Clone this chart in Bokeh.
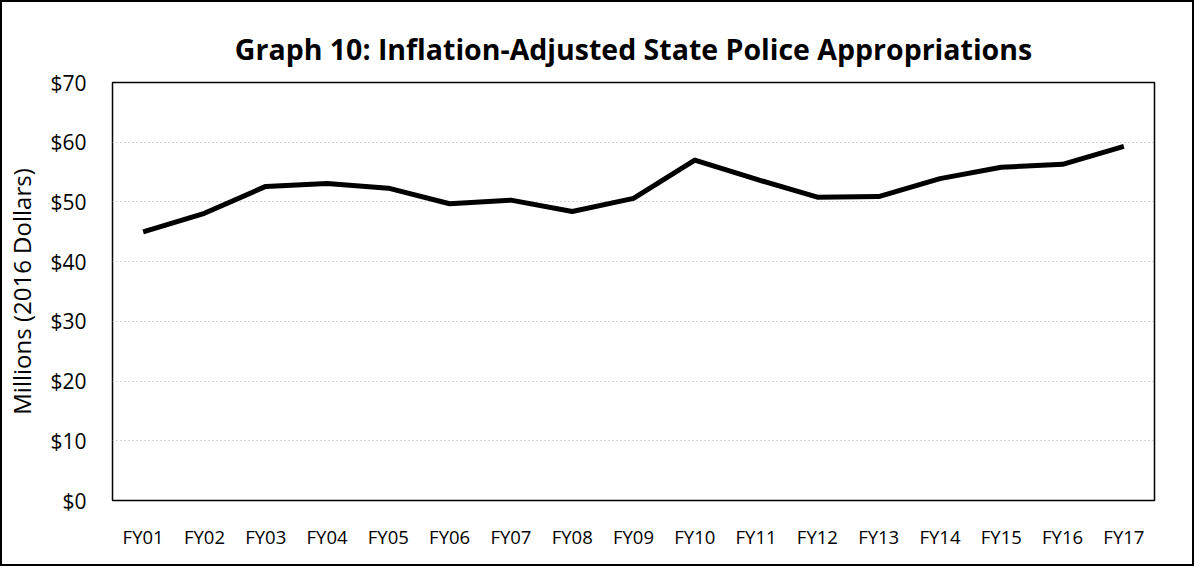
from bokeh.plotting import figure
from bokeh.embed import file_html
from bokeh.resources import INLINE
from bokeh.models import ColumnDataSource, NumeralTickFormatter, FixedTicker

years = ["FY01", "FY02", "FY03", "FY04", "FY05", "FY06", "FY07", "FY08", "FY09",
         "FY10", "FY11", "FY12", "FY13", "FY14", "FY15", "FY16", "FY17"]
approp = [45.0, 48.1, 52.6, 53.1, 52.3, 49.7, 50.3, 48.4, 50.6,
          57.0, 53.8, 50.8, 50.9, 53.9, 55.8, 56.3, 59.3]
y_ticks = [0, 10, 20, 30, 40, 50, 60, 70]

src = ColumnDataSource(dict(year=years, value=approp))

p = figure(x_range=years, y_range=(0, 70), width=1194, height=566,
           output_backend="svg", toolbar_location=None,
           min_border_left=108, min_border_right=42, min_border_top=80, min_border_bottom=68,
           title="Graph 10: Inflation-Adjusted State Police Appropriations")
p.styles = {"border": "2px solid black", "box-sizing": "border-box"}

p.title.align = "center"
p.title.text_font = "Open Sans"
p.title.text_font_style = "bold"
p.title.text_font_size = "28.5px"
p.title.text_color = "black"
p.title.offset = 0
p.title.standoff = 30

p.line("year", "value", source=src, line_color="black", line_width=5, line_join="round")

p.outline_line_color = "black"
p.outline_line_width = 1.5

p.xgrid.grid_line_color = None
p.ygrid.grid_line_color = "#aaaaaa"
p.ygrid.grid_line_dash = "1 3"
p.ygrid.grid_line_width = 1

p.yaxis.ticker = FixedTicker(ticks=y_ticks)
p.yaxis.formatter = NumeralTickFormatter(format="$0")
p.yaxis.axis_label = "Millions (2016 Dollars)"
for ax in (p.xaxis[0], p.yaxis[0]):
    ax.axis_line_color = None
    ax.major_tick_line_color = None
    ax.minor_tick_line_color = None
    ax.major_label_text_font = "Open Sans"
    ax.major_label_text_font_size = "18.5px"
    ax.major_label_text_color = "black"
    ax.axis_label_text_font = "Open Sans"
    ax.axis_label_text_font_style = "normal"
    ax.axis_label_text_font_size = "24px"
    ax.axis_label_text_color = "black"
p.yaxis.major_label_text_font_size = "21px"
p.yaxis.major_label_standoff = 20
p.xaxis.major_label_standoff = 17
p.yaxis.axis_label_standoff = 9

open("out.html", "w").write(file_html(p, INLINE))
